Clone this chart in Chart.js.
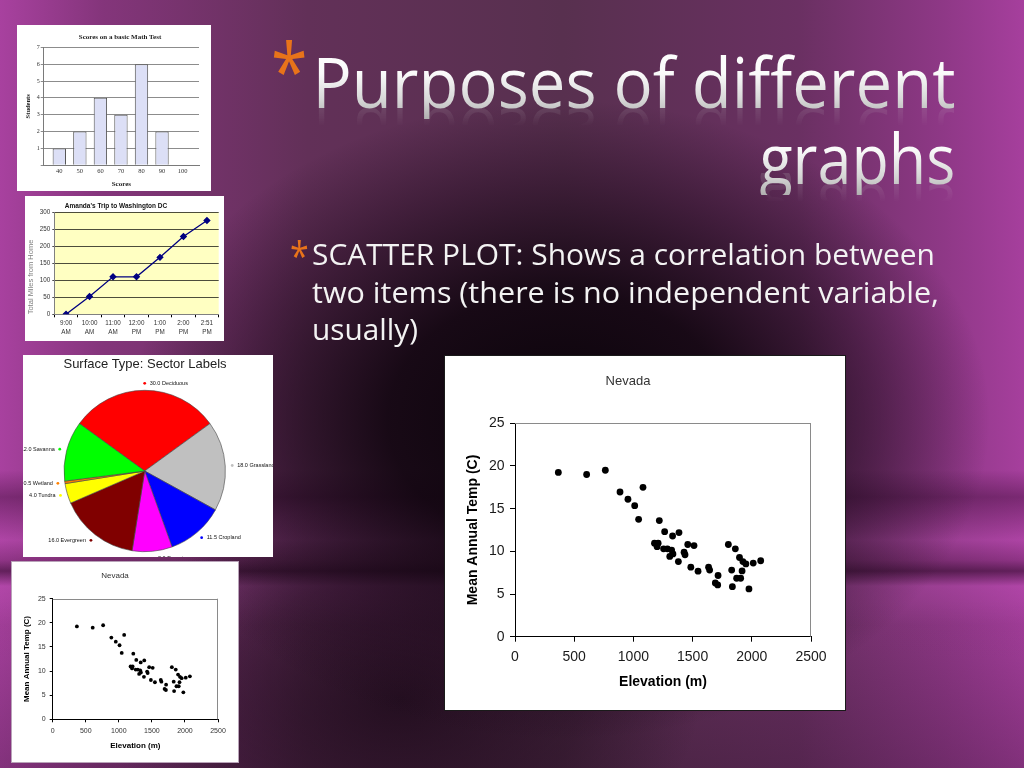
<!DOCTYPE html>
<html>
<head>
<meta charset="utf-8">
<script src="https://cdn.jsdelivr.net/npm/chart.js@4.4.1/dist/chart.umd.min.js"></script>
<style>
  html, body { margin:0; padding:0; }
  body { width:1024px; height:768px; overflow:hidden; position:relative; font-family:"Open Sans", "Liberation Sans", sans-serif; }
  #bg { position:absolute; left:0; top:0; width:1024px; height:768px;
    background:
      radial-gradient(ellipse 430px 320px at 560px 420px, rgba(8,2,8,0.97) 0%, rgba(14,4,13,0.88) 40%, rgba(28,8,26,0.45) 74%, rgba(30,8,28,0) 100%),
      radial-gradient(ellipse 300px 200px at 400px 700px, rgba(20,6,18,0.75) 0%, rgba(25,8,22,0.4) 60%, rgba(30,8,28,0) 100%),
      linear-gradient(180deg, rgba(0,0,0,0) 0px, rgba(0,0,0,0) 470px, rgba(40,0,35,0.35) 497px, rgba(210,90,200,0.17) 540px, rgba(60,10,50,0.22) 560px, rgba(30,0,25,0.5) 571px, rgba(210,90,200,0.22) 586px, rgba(120,40,110,0.06) 625px, rgba(0,0,0,0) 660px),
      linear-gradient(180deg, rgba(0,0,0,0) 0px, rgba(0,0,0,0) 600px, rgba(20,5,20,0.25) 768px),
      linear-gradient(90deg, #a8419f 0%, #84357b 10%, #623058 30%, #58304f 55%, #6a3062 78%, #8e3886 92%, #a63f9d 100%);
  }
  .box { position:absolute; background:#fff; overflow:hidden; }
  .box canvas { position:absolute; left:0; top:0; }
  .ttl { position:absolute; white-space:nowrap; line-height:1; transform:translate(-50%,-50%); }
  .tline { position:absolute; right:69px; white-space:nowrap; font-size:69px; line-height:76px; }
  .tline span { display:inline-block; transform-origin:right center;
    background:linear-gradient(180deg, #ffffff 0%, #fafafa 40%, #d6d6d6 75%, #b0b0b0 100%);
    -webkit-background-clip:text; background-clip:text; color:transparent;
    -webkit-box-reflect: below -22px linear-gradient(transparent 62%, rgba(255,255,255,0.22));
  }
  .bline { position:absolute; left:312px; white-space:nowrap; font-size:29px; line-height:37.5px; color:#f3f3f3; }
  .bline span { display:inline-block; transform-origin:left center; }
  .ast { position:absolute; color:#e8731a; white-space:nowrap; transform-origin:left top; }
</style>
</head>
<body>
<div id="bg"></div>

<!-- Slide title -->
<div class="ast" style="left:271px; top:31px; font-size:78px; line-height:78px; transform:scaleX(0.85);">*</div>
<div class="tline" style="top:43px;"><span data-w="643">Purposes of different</span></div>
<div class="tline" style="top:119px;"><span data-w="196">graphs</span></div>

<!-- Bullet text -->
<div class="ast" style="left:290px; top:236px; font-size:40px; line-height:40px; transform:scaleX(0.85);">*</div>
<div class="bline" style="top:235px;"><span data-w="623">SCATTER PLOT: Shows a correlation between</span></div>
<div class="bline" style="top:272.5px;"><span data-w="627">two items (there is no independent variable,</span></div>
<div class="bline" style="top:310px;"><span data-w="106">usually)</span></div>

<!-- Bar chart -->
<div class="box" style="left:17px; top:25px; width:194px; height:166px;">
  <canvas id="barChart" width="194" height="166" style="width:194px;height:166px"></canvas>
  <div class="ttl" style="left:103px; top:12px; font:bold 7px 'Liberation Serif', serif; color:#222;">Scores on a basic Math Test</div>
</div>

<!-- Line chart -->
<div class="box" style="left:25px; top:196px; width:199px; height:145px;">
  <canvas id="lineChart" width="199" height="145" style="width:199px;height:145px"></canvas>
  <div class="ttl" style="left:91px; top:9px; font:bold 6.5px 'Liberation Sans', Arial, sans-serif; color:#111;">Amanda's Trip to Washington DC</div>
</div>

<!-- Pie chart -->
<div class="box" style="left:23px; top:355px; width:250px; height:202px;">
  <canvas id="pieChart" width="250" height="202" style="width:250px;height:202px"></canvas>
  <div class="ttl" style="left:122px; top:8px; font:13px 'Liberation Sans', Arial, sans-serif; color:#222;">Surface Type: Sector Labels</div>
</div>

<!-- Small scatter -->
<div class="box" style="left:12px; top:562px; width:226px; height:200px; outline:1px solid #b9a3b9;">
  <canvas id="smallScatter" width="226" height="200" style="width:226px;height:200px"></canvas>
</div>

<!-- Big scatter -->
<div class="box" style="left:445px; top:356px; width:400px; height:354px; outline:1px solid #1a1a1a;">
  <canvas id="bigScatter" width="400" height="354" style="width:400px;height:354px"></canvas>
</div>

<script>
// ---------------- DATA ----------------
const elevation = [366,605,763,887,954,1011,1044,1081,1219,1264,1178,1209,1200,1255,1287,1331,1385,1323,1334,1307,1380,1428,1436,1459,1512,1485,1546,1635,1644,1715,1692,1712,1802,1861,1896,1925,1950,1830,1918,1872,1906,1836,1976,2012,2075];
const meanTemp  = [19.25,19.0,19.5,16.95,16.1,15.35,13.75,17.5,13.6,12.3,10.95,10.95,10.55,10.3,10.3,11.8,12.2,10.15,9.7,9.4,8.8,9.9,9.6,10.8,10.68,8.15,7.68,8.15,7.8,7.17,6.3,6.07,10.8,10.3,9.28,8.8,8.52,7.8,7.7,6.85,6.85,5.86,5.6,8.62,8.9];
const elevationTicks = [0,500,1000,1500,2000,2500];
const tempTicks = [0,5,10,15,20,25];

const scoreCats = [40,50,60,70,80,90,100];
const studentCounts = [1,2,4,3,6,2,0];

const tripTimes = [["9:00","AM"],["10:00","AM"],["11:00","AM"],["12:00","PM"],["1:00","PM"],["2:00","PM"],["2:51","PM"]];
const tripMiles = [0,52,110,110,167,228,275];

const surfaceTypes  = ["Deciduous","Grassland","Cropland","Desert","Evergreen","Tundra","Wetland","Savanna"];
const surfaceShares = [30.0,18.0,11.5,8.0,16.0,4.0,0.5,12.0];
const surfaceColors = ["#ff0000","#c0c0c0","#0000ff","#ff00ff","#800000","#ffff00","#ff8000","#00ff00"];

// ---------------- TEXT FIT ----------------
function fitText(){
  document.querySelectorAll('[data-w]').forEach(el=>{
    el.style.transform='none';
    const w = el.getBoundingClientRect().width;
    const t = parseFloat(el.dataset.w);
    if (w>0) el.style.transform = 'scaleX(' + (t/w) + ')';
  });
}
fitText();
if (document.fonts && document.fonts.ready) document.fonts.ready.then(fitText);

// ---------------- CHARTS ----------------
Chart.defaults.font.family = "'Liberation Sans', Arial, sans-serif";
Chart.defaults.animation = false;
const SERIF = "'Liberation Serif', 'Times New Roman', serif";
const plain = v => String(v);

const framePlugin = {
  id:'frame',
  afterDraw(chart, args, o){
    if(!o || !o.color) return;
    const {ctx, chartArea:a} = chart;
    ctx.save();
    ctx.strokeStyle = o.color; ctx.lineWidth = 1;
    ctx.beginPath();
    ctx.moveTo(a.left, Math.round(a.top)+0.5); ctx.lineTo(a.right, Math.round(a.top)+0.5);
    ctx.moveTo(Math.round(a.right)-0.5, a.top); ctx.lineTo(Math.round(a.right)-0.5, a.bottom);
    ctx.stroke();
    ctx.restore();
  }
};
const plotBgPlugin = {
  id:'plotBg',
  beforeDraw(chart, args, o){
    if(!o || !o.color) return;
    const {ctx, chartArea:a} = chart;
    ctx.save(); ctx.fillStyle=o.color; ctx.fillRect(a.left,a.top,a.right-a.left,a.bottom-a.top); ctx.restore();
  }
};
const sectorLabelPlugin = {
  id:'sectorLabels',
  afterDatasetsDraw(chart, args, o){
    const ctx = chart.ctx;
    const meta = chart.getDatasetMeta(0);
    const ds = chart.data.datasets[0];
    ctx.save();
    ctx.font = (o.size||5.5)+"px 'Liberation Sans', Arial, sans-serif";
    ctx.textBaseline = 'middle';
    meta.data.forEach((arc,i)=>{
      const p = arc.getProps(['x','y','startAngle','endAngle','outerRadius'], true);
      const mid = (p.startAngle+p.endAngle)/2;
      const rr = p.outerRadius + (o.gap||7);
      const px = p.x + Math.cos(mid)*rr, py = p.y + Math.sin(mid)*rr;
      ctx.fillStyle = ds.backgroundColor[i];
      ctx.beginPath(); ctx.arc(px,py,1.4,0,Math.PI*2); ctx.fill();
      ctx.fillStyle = '#111';
      const txt = ds.data[i].toFixed(1) + ' ' + chart.data.labels[i];
      if (Math.cos(mid) > -0.05){ ctx.textAlign='left'; ctx.fillText(txt, px+5, py); }
      else { ctx.textAlign='right'; ctx.fillText(txt, px-5, py); }
    });
    ctx.restore();
  }
};

function scatterConfig(p){
  return {
    type:'scatter',
    data:{ datasets:[{ data: elevation.map((x,i)=>({x:x, y:meanTemp[i]})),
      backgroundColor:'#000', borderColor:'#000', borderWidth:0, pointRadius:p.r, pointHoverRadius:p.r }]},
    options:{
      responsive:false, animation:false, events:[],
      layout:{ padding:{ left:0, right:p.padR, top:0, bottom:0 } },
      plugins:{
        legend:{display:false}, tooltip:{enabled:false},
        title:{ display:true, text:'Nevada', color:'#333', font:{size:p.tSize, weight:'normal'}, padding:{top:p.tTop, bottom:p.tBot} },
        frame:{ color:'#8a8a8a' }
      },
      scales:{
        x:{ type:'linear', min:0, max:2500,
          afterFit: s=>{ s.height = p.xH; },
          afterBuildTicks: s=>{ s.ticks = elevationTicks.map(v=>({value:v})); },
          ticks:{ color:p.tc, font:{size:p.tick}, padding:p.xPad, maxRotation:0, callback:plain },
          grid:{ drawOnChartArea:false, color:'#000', tickLength:p.tl },
          border:{ color:'#000' },
          title:{ display:true, text:'Elevation (m)', color:'#000', font:{size:p.ax, weight:'bold'}, padding:{top:0, bottom:p.xtPad} } },
        y:{ type:'linear', min:0, max:25,
          afterFit: s=>{ s.width = p.yW; },
          afterBuildTicks: s=>{ s.ticks = tempTicks.map(v=>({value:v})); },
          ticks:{ color:p.tc, font:{size:p.tick}, padding:p.yPad, callback:plain },
          grid:{ drawOnChartArea:false, color:'#000', tickLength:p.tl },
          border:{ color:'#000' },
          title:{ display:true, text:'Mean Annual Temp (C)', color:'#000', font:{size:p.ax, weight:'bold'}, padding:{top:p.ytPad, bottom:0} } }
      }
    },
    plugins:[framePlugin]
  };
}

new Chart(document.getElementById('bigScatter'), scatterConfig({
  r:3.4, padR:34, tSize:13, tTop:17.2, tBot:34.5, xH:73.3, yW:70, tick:14, tc:'#1a1a1a',
  xPad:7, yPad:5.5, tl:5, ax:14, xtPad:19.9, ytPad:19.3
}));

new Chart(document.getElementById('smallScatter'), scatterConfig({
  r:1.9, padR:20, tSize:8, tTop:9.2, tBot:17.9, xH:42.7, yW:40.7, tick:7, tc:'#333',
  xPad:4.5, yPad:4, tl:3, ax:8, xtPad:11.2, ytPad:10.2
}));

new Chart(document.getElementById('barChart'), {
  type:'bar',
  data:{ datasets:[{ data: scoreCats.map((c,i)=>({x:c, y:studentCounts[i]})),
    backgroundColor:'#dcdff6', borderColor:'#555', borderWidth:1, barPercentage:0.65, categoryPercentage:1 }]},
  options:{
    responsive:false, animation:false, events:[],
    layout:{ padding:{ left:0, right:12, top:22.3, bottom:0 } },
    plugins:{ legend:{display:false}, tooltip:{enabled:false} },
    scales:{
      x:{ type:'linear', min:32.4, max:108, offset:false,
        afterBuildTicks: s=>{ s.ticks = scoreCats.map(v=>({value:v})); },
        afterFit: s=>{ s.height = 25.7; },
        grid:{ display:false, drawTicks:false, offset:false },
        border:{ color:'#7a7a7a' },
        ticks:{ color:'#333', font:{size:6.5, family:SERIF}, padding:2.2, maxRotation:0, autoSkip:false, callback:plain },
        title:{ display:true, text:'Scores', color:'#222', font:{size:7, weight:'bold', family:SERIF}, padding:{top:0, bottom:2.8} } },
      y:{ min:0, max:7,
        afterFit: s=>{ s.width = 26.7; },
        ticks:{ stepSize:1, color:'#333', font:{size:6, family:SERIF}, padding:1, callback:v=> v===0 ? '' : String(v) },
        grid:{ color:'#8c8c8c', tickLength:3 },
        border:{ color:'#7a7a7a' },
        title:{ display:true, text:'Students', color:'#222', font:{size:6.5, weight:'bold', family:SERIF}, padding:{top:7.5, bottom:0} } }
    }
  }
});

new Chart(document.getElementById('lineChart'), {
  type:'line',
  data:{ labels: tripTimes, datasets:[{ data: tripMiles, borderColor:'#000080', backgroundColor:'#000080',
    borderWidth:1.3, pointStyle:'rectRot', pointRadius:2.8, pointBackgroundColor:'#000080', pointBorderColor:'#000080', tension:0, fill:false }]},
  options:{
    responsive:false, animation:false, events:[],
    layout:{ padding:{ left:0, right:2.3, top:16, bottom:0 } },
    plugins:{ legend:{display:false}, tooltip:{enabled:false}, plotBg:{ color:'#ffffc2' } },
    scales:{
      x:{ offset:true,
        afterFit: s=>{ s.height = 26.7; },
        grid:{ offset:true, drawOnChartArea:false, color:'#000', tickLength:3 },
        border:{ color:'#808080' },
        ticks:{ color:'#333', font:{size:6.3, lineHeight:1.4}, padding:2, maxRotation:0, autoSkip:false } },
      y:{ min:0, max:300,
        afterFit: s=>{ s.width = 29.3; },
        ticks:{ stepSize:50, color:'#333', font:{size:6.3}, padding:2, callback:plain },
        grid:{ color:'#000', lineWidth:0.7, tickLength:2 },
        border:{ color:'#808080' },
        title:{ display:true, text:'Total Miles from Home', color:'#7f7f7f', align:'start', font:{size:7.5}, padding:{top:1.2, bottom:0} } }
    }
  },
  plugins:[plotBgPlugin]
});

new Chart(document.getElementById('pieChart'), {
  type:'pie',
  data:{ labels: surfaceTypes, datasets:[{ data: surfaceShares, backgroundColor: surfaceColors, borderColor:'#444', borderWidth:0.6 }]},
  options:{
    responsive:false, animation:false, events:[], rotation:-54,
    layout:{ padding:{ left:40.7, right:47.3, top:35, bottom:5 } },
    plugins:{ legend:{display:false}, tooltip:{enabled:false}, sectorLabels:{ size:5.5, gap:7 } }
  },
  plugins:[sectorLabelPlugin]
});
</script>
</body>
</html>
